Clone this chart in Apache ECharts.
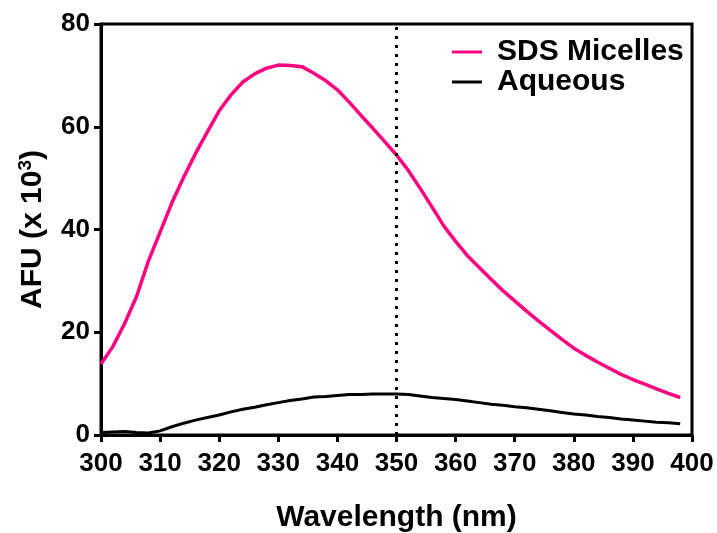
<!DOCTYPE html>
<html>
<head>
<meta charset="utf-8">
<script src="https://cdn.jsdelivr.net/npm/echarts@6/dist/echarts.min.js"></script>
<style>
  html, body { margin: 0; padding: 0; background: #fff; }
  #chart { width: 717px; height: 533px; }
</style>
</head>
<body>
<div id="chart"></div>
<script>
// wavelength (nm), 2 nm steps
var wavelengths = [];
for (var w = 300; w <= 398; w += 2) wavelengths.push(w);

// AFU (x 10^3)
var sdsMicelles = [13.8, 17.2, 21.7, 26.9, 33.8, 39.5, 45.2, 50.2, 54.8, 59.0,
                   63.1, 66.2, 68.7, 70.3, 71.4, 72.0, 71.9, 71.7, 70.4, 69.0,
                   67.2, 64.8, 62.2, 59.7, 57.1, 54.5, 51.5, 48.0, 44.4, 40.7,
                   37.7, 34.9, 32.6, 30.3, 28.1, 26.1, 24.1, 22.2, 20.4, 18.6,
                   16.9, 15.5, 14.2, 13.0, 11.8, 10.8, 9.9, 9.0, 8.1, 7.3];
var aqueous = [0.5, 0.6, 0.7, 0.5, 0.4, 0.8, 1.6, 2.3, 2.9, 3.4,
               3.9, 4.5, 5.0, 5.4, 5.9, 6.3, 6.7, 7.0, 7.4, 7.5,
               7.7, 7.9, 7.9, 8.0, 8.0, 8.0, 7.9, 7.6, 7.3, 7.1,
               6.9, 6.6, 6.3, 6.0, 5.8, 5.5, 5.3, 5.0, 4.7, 4.4,
               4.1, 3.9, 3.6, 3.4, 3.1, 2.9, 2.7, 2.5, 2.4, 2.2];
var markWavelength = 350;

function pairs(ys) {
  return wavelengths.map(function (x, i) { return [x, ys[i]]; });
}

var FONT = '"Liberation Sans", Arial, Helvetica, sans-serif';
var chart = echarts.init(document.getElementById('chart'));

chart.setOption({
  animation: false,
  grid: {
    left: 101, right: 25, top: 24, bottom: 98,
    outerBoundsMode: 'none',
    show: true, borderColor: '#000', borderWidth: 3, backgroundColor: 'transparent'
  },
  legend: {
    orient: 'vertical',
    left: 452, top: 37,
    padding: 0,
    itemWidth: 30, itemHeight: 3, itemGap: 0,
    icon: 'rect',
    textStyle: {
      fontFamily: FONT, fontWeight: 'bold', fontSize: 30, color: '#000',
      lineHeight: 27, padding: [0, 0, 0, 10]
    },
    data: ['SDS Micelles', 'Aqueous']
  },
  xAxis: {
    type: 'value',
    min: 300, max: 400, interval: 10,
    name: 'Wavelength (nm)',
    nameLocation: 'middle',
    nameGap: 68,
    nameTextStyle: { fontFamily: FONT, fontWeight: 'bold', fontSize: 30, color: '#000' },
    axisLine: { lineStyle: { color: '#000', width: 3 } },
    axisTick: { length: 7, lineStyle: { width: 3, color: '#000' } },
    axisLabel: { fontFamily: FONT, fontWeight: 'bold', fontSize: 26, color: '#000', margin: 16 },
    splitLine: { show: false }
  },
  yAxis: {
    type: 'value',
    min: 0, max: 80, interval: 20,
    name: 'AFU (x 10{sup|3})',
    nameLocation: 'middle',
    nameGap: 51,
    nameTextStyle: {
      fontFamily: FONT, fontWeight: 'bold', fontSize: 30, color: '#000', lineHeight: 34,
      rich: {
        sup: { fontFamily: FONT, fontWeight: 'bold', fontSize: 19, color: '#000', verticalAlign: 'top', lineHeight: 22 }
      }
    },
    axisLine: { lineStyle: { color: '#000', width: 3 } },
    axisTick: { length: 7, lineStyle: { width: 3, color: '#000' } },
    axisLabel: { fontFamily: FONT, fontWeight: 'bold', fontSize: 26, color: '#000', margin: 11 },
    splitLine: { show: false }
  },
  series: [{
    name: 'SDS Micelles',
    type: 'line',
    showSymbol: false,
    itemStyle: { color: '#ff0080' },
    lineStyle: { color: '#ff0080', width: 3.5 },
    data: pairs(sdsMicelles),
    markLine: {
      silent: true,
      symbol: 'none',
      label: { show: false },
      lineStyle: { color: '#000', type: [3, 6], width: 3 },
      data: [{ xAxis: markWavelength }]
    }
  }, {
    name: 'Aqueous',
    type: 'line',
    showSymbol: false,
    itemStyle: { color: '#000' },
    lineStyle: { color: '#000', width: 3 },
    data: pairs(aqueous)
  }]
});
</script>
</body>
</html>
